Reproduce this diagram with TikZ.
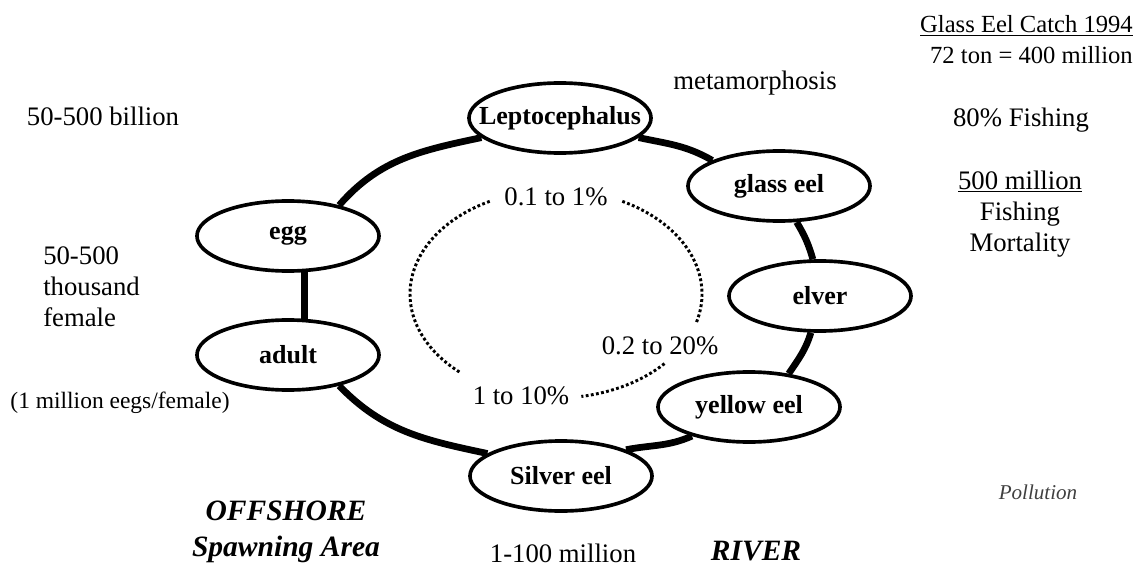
\documentclass[tikz,border=0pt]{standalone}
\usepackage{fontspec}
\setmainfont{Liberation Serif}
\usetikzlibrary{shapes.geometric,backgrounds}

\begin{document}
\begin{tikzpicture}[x=0.025cm,y=0.025cm,
    stage/.style={ellipse,draw,line width=2.6pt,fill=white,
      minimum width=4.55cm,minimum height=1.75cm,inner xsep=-12pt,inner ysep=0pt,
      font=\fontsize{18.5}{22}\selectfont\bfseries},
    txt/.style={inner sep=0pt,font=\fontsize{19}{22}\selectfont},
    area/.style={inner sep=0pt,align=center,font=\fontsize{21}{25.5}\selectfont\bfseries\itshape},
    ring/.style={line width=4.8pt},
    ratearc/.style={line width=2.1pt,dash pattern=on 2pt off 1.7pt}]
        \useasboundingbox (0,0) rectangle (1143,-571);

        % life stages
        \node[stage] (lepto) at (560,-118) {Leptocephalus};
        \node[stage] (glass) at (779,-186) {glass eel};
        \node[stage] (elver) at (820,-296) {elver};
        \node[stage] (yellow) at (749,-407) {yellow eel};
        \node[stage] (silver) at (561,-476) {Silver eel};
        \node[stage] (adult) at (288,-355) {adult};
        \node[stage] (egg) at (288,-236) {egg};

        \begin{scope}[on background layer]
            \draw[ring] (egg.31) to[out=49,in=192] (lepto.194);
            \draw[ring] (lepto.-14) to[out=-12,in=150] (glass.159);
            \draw[ring] (glass.-64) to[out=-59,in=106] (elver.101);
            \draw[ring] (elver.256) to[out=-107,in=56] (yellow.40);
            \draw[ring] (yellow.207) to[out=204,in=11] (silver.22);
            \draw[ring] (silver.163) to[out=168,in=-46] (adult.-31);
            \draw[ring] (adult.66) -- (egg.-66);
        \end{scope}

        % survival rates
        \coordinate (inner) at (556,-294);
        \draw[ratearc] ([shift={(117:146 and 104)}]inner) arc[start angle=117,end angle=229,x radius=146,y radius=104];
        \draw[ratearc] ([shift={(63:146 and 104)}]inner) arc[start angle=63,end angle=-16,x radius=146,y radius=104];
        \draw[ratearc] ([shift={(-42:146 and 104)}]inner) arc[start angle=-42,end angle=-80,x radius=146,y radius=104];
        \node[txt] (rate1) at (556,-197) {0.1 to 1\%};
        \node[txt] (rate2) at (660,-346) {0.2 to 20\%};
        \node[txt] (rate3) at (521,-396) {1 to 10\%};

        % numbers
        \node[txt] (billion) at (103,-116) {50-500 billion};
        \node[txt,align=left,anchor=west] (female) at (43,-287) {50-500\\thousand\\female};
        \node[txt,font=\fontsize{16.7}{20}\selectfont] (eggs) at (120,-403) {(1 million eegs/female)};
        \node[txt] (meta) at (755,-83) {metamorphosis};
        \node[txt,align=right,anchor=east,font=\fontsize{17.5}{22}\selectfont] (catch) at (1133,-40) {\underline{Glass Eel Catch 1994}\\72 ton = 400 million};
        \node[txt] (fishing) at (1021,-120) {80\% Fishing};
        \node[txt,align=center] (mortality) at (1020,-214) {\underline{500 million}\\Fishing\\Mortality};
        \node[txt] (silvercount) at (563,-553) {1-100 million};
        \node[txt,font=\fontsize{15}{18}\selectfont\itshape,text=black!75] (pollution) at (1038,-492) {Pollution};

        % areas
        \node[area] (offshore) at (286,-532) {OFFSHORE\\Spawning Area};
        \node[area] (river) at (756,-551) {RIVER};
    \end{tikzpicture}
\end{document}
